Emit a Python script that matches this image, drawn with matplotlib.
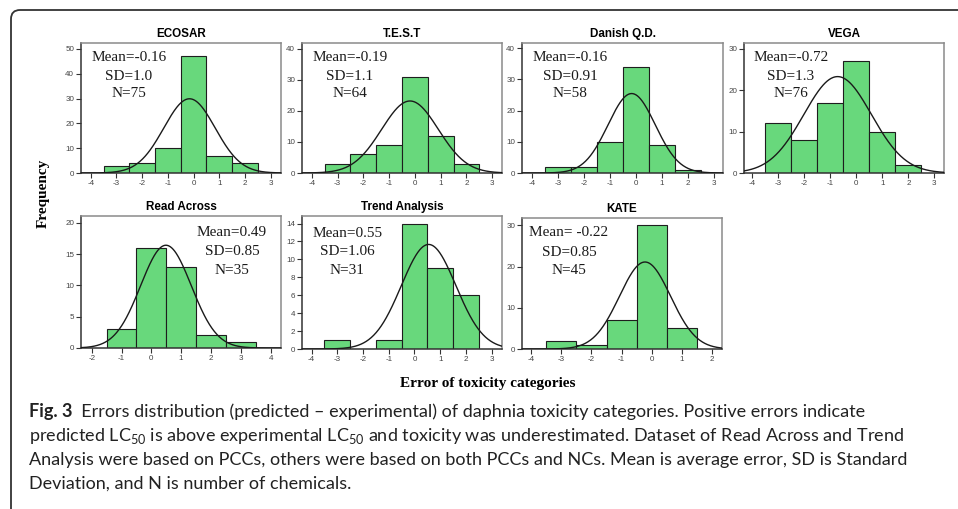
import numpy as np
import matplotlib
matplotlib.use("Agg")
import matplotlib.pyplot as plt
from matplotlib.patches import FancyBboxPatch
from matplotlib.transforms import IdentityTransform

plt.rcParams['axes.unicode_minus'] = False
plt.rcParams['mathtext.fontset'] = 'custom'
plt.rcParams['mathtext.rm'] = 'Lato'

# --- data ---
titles = ["ECOSAR", "T.E.S.T", "Danish Q.D.", "VEGA", "Read Across", "Trend Analysis", "KATE"]

ecosar_bins = [-3, -2, -1, 0, 1, 2]
ecosar_counts = [3, 4, 10, 47, 7, 4]
test_bins = [-3, -2, -1, 0, 1, 2]
test_counts = [3, 6, 9, 31, 12, 3]
danish_bins = [-3, -2, -1, 0, 1, 2]
danish_counts = [2, 2, 10, 34, 9, 1]
vega_bins = [-3, -2, -1, 0, 1, 2]
vega_counts = [12, 8, 17, 27, 10, 2]
read_bins = [-1, 0, 1, 2, 3]
read_counts = [3, 16, 13, 2, 1]
trend_bins = [-3, -2, -1, 0, 1, 2]
trend_counts = [1, 0, 1, 14, 9, 6]
kate_bins = [-3, -2, -1, 0, 1]
kate_counts = [2, 1, 7, 30, 5]

means = [-0.16, -0.19, -0.16, -0.72, 0.49, 0.55, -0.22]
sds = [1.0, 1.1, 0.91, 1.3, 0.85, 1.06, 0.85]
ns = [75, 64, 58, 76, 35, 31, 45]
mean_labels = ["Mean=-0.16", "Mean=-0.19", "Mean=-0.16", "Mean=-0.72",
               "Mean=0.49", "Mean=0.55", "Mean= -0.22"]
sd_labels = ["SD=1.0", "SD=1.1", "SD=0.91", "SD=1.3", "SD=0.85", "SD=1.06", "SD=0.85"]
n_labels = ["N=75", "N=64", "N=58", "N=76", "N=35", "N=31", "N=45"]

xticks_all = [range(-4, 4), range(-4, 4), range(-4, 4), range(-4, 4),
              range(-2, 5), range(-4, 4), range(-4, 3)]
yticks_all = [range(0, 51, 10), range(0, 41, 10), range(0, 41, 10), range(0, 31, 10),
              range(0, 21, 5), range(0, 15, 2), range(0, 31, 10)]

caption_lines = [
    "Errors distribution (predicted \u2013 experimental) of daphnia toxicity categories. Positive errors indicate",
    "predicted LC$_{50}$ is above experimental LC$_{50}$ and toxicity was underestimated. Dataset of Read Across and Trend",
    "Analysis were based on PCCs, others were based on both PCCs and NCs. Mean is average error, SD is Standard",
    "Deviation, and N is number of chemicals.",
]

bins_all = [ecosar_bins, test_bins, danish_bins, vega_bins, read_bins, trend_bins, kate_bins]
counts_all = [ecosar_counts, test_counts, danish_counts, vega_counts, read_counts, trend_counts, kate_counts]

# --- layout (pixels: left, right, top, bottom) and axis limits ---
W, H = 958, 509
boxes = [(81, 281, 43, 173), (302, 502, 43, 173), (522, 723, 43, 173), (744, 944, 43, 173),
         (81, 281, 216, 348), (302, 502, 216, 349), (522, 722, 218, 349)]
xlims = [(-4.38, 3.4), (-4.38, 3.38), (-4.385, 3.36), (-4.32, 3.37),
         (-2.36, 4.35), (-4.37, 3.4), (-4.31, 2.34)]
ylims = [52.4, 41.9, 41.6, 31.45, 21.1, 14.84, 31.8]
text_x = [0.24, 0.24, 0.24, 0.234, 0.755, 0.226, 0.235]
text_y = [(0.89, 0.746, 0.61)] * 4 + [(0.873, 0.729, 0.59), (0.872, 0.73, 0.593), (0.886, 0.74, 0.6)]

serif = "Liberation Serif"
sans = "Liberation Sans"
bar_color = "#68d87c"

fig = plt.figure(figsize=(W / 100, H / 100), dpi=100)

for i in range(7):
    l, r, t, b = boxes[i]
    ax = fig.add_axes([l / W, 1 - b / H, (r - l) / W, (b - t) / H])
    ax.bar(bins_all[i], counts_all[i], width=1.0, color=bar_color,
           edgecolor="#1e1e1e", linewidth=0.8, zorder=2)
    x = np.linspace(xlims[i][0], xlims[i][1], 400)
    y = ns[i] / (sds[i] * np.sqrt(2 * np.pi)) * np.exp(-0.5 * ((x - means[i]) / sds[i]) ** 2)
    ax.plot(x, y, color="#1a1a1a", linewidth=1.0, zorder=3)
    ax.set_xlim(*xlims[i])
    ax.set_ylim(0, ylims[i])
    ax.set_xticks(list(xticks_all[i]))
    ax.set_yticks(list(yticks_all[i]))
    ax.tick_params(direction="out", length=3.5, width=0.8, color="#333333",
                   labelsize=5.8, labelcolor="#444444", pad=1.5)
    for lab in ax.get_xticklabels() + ax.get_yticklabels():
        lab.set_fontfamily(sans)
    for sp in ax.spines.values():
        sp.set_color("#8a8a8a")
        sp.set_linewidth(1.1)
    ax.spines["bottom"].set_color("#333333")
    ax.spines["left"].set_color("#333333")
    ax.set_title(titles[i], fontsize=8.4, fontweight="bold", family=sans, pad=4)
    for lbl, yy in zip([mean_labels[i], sd_labels[i], n_labels[i]], text_y[i]):
        ax.text(text_x[i], yy, lbl, transform=ax.transAxes, ha="center", va="center",
                fontsize=11, family=serif, color="#1a1a1a", zorder=4)

fig.text(43 / W, 1 - 193 / H, "Frequency", rotation=90, ha="center", va="center",
         fontsize=11, fontweight="bold", family=serif)
fig.text(488 / W, 1 - 383 / H, "Error of toxicity categories", ha="center", va="center",
         fontsize=11, fontweight="bold", family=serif)

# caption
cap_font = "Lato"
cap_size = 13
line_y = [412, 436, 460, 484]
first = fig.text(29 / W, 1 - line_y[0] / H, "Fig. 3", ha="left", va="center",
                 fontsize=cap_size, fontweight="bold", family=cap_font, color="#222222")
fig.axes[0].annotate("  " + caption_lines[0], xy=(1, 0.5), xycoords=first, ha="left", va="center",
                     fontsize=cap_size, family=cap_font, color="#222222", annotation_clip=False)
for k in range(1, 4):
    fig.text(29 / W, 1 - line_y[k] / H, caption_lines[k], ha="left", va="center",
             fontsize=cap_size, family=cap_font, color="#222222")

# outer rounded frame (only top and left edges fall inside the image)
frame = FancyBboxPatch((11, -30), 1000, H - 10 + 30, boxstyle="round,pad=0,rounding_size=9",
                       transform=IdentityTransform(), fill=False, edgecolor="#333333",
                       linewidth=1.3)
fig.patches.append(frame)

fig.savefig("out.png", dpi=100)
